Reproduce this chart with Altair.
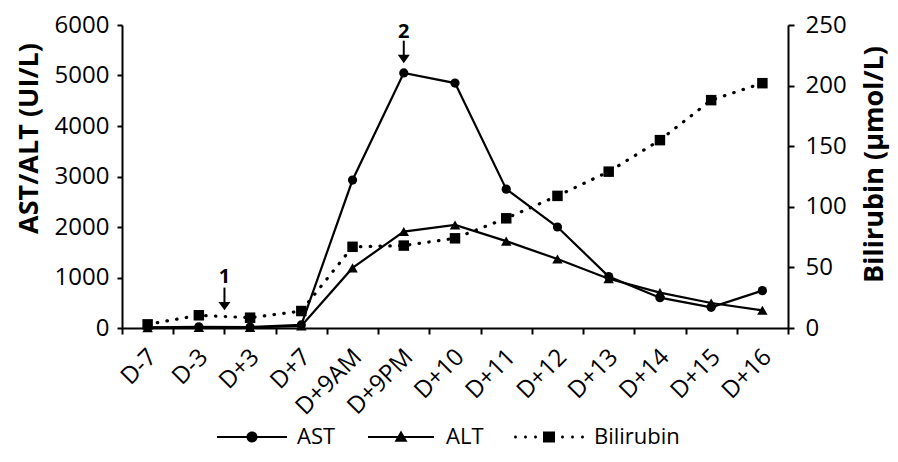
import altair as alt
import pandas as pd

# ---- data ----
days = ["D-7", "D-3", "D+3", "D+7", "D+9AM", "D+9PM", "D+10",
        "D+11", "D+12", "D+13", "D+14", "D+15", "D+16"]
ast = [15, 25, 20, 60, 2930, 5050, 4850, 2750, 2000, 1020, 600, 410, 740]
alt_vals = [5, 10, 10, 40, 1190, 1910, 2040, 1720, 1365, 975, 700, 495, 350]
bilirubin = [3, 10.5, 8.5, 14, 67, 68, 74, 90.5, 109, 129, 155, 188, 202]

series = ["AST", "ALT", "Bilirubin"]
left_ticks = [0, 1000, 2000, 3000, 4000, 5000, 6000]
right_ticks = [0, 50, 100, 150, 200, 250]

# annotations (arrow 1 sits on the D-3 / D+3 boundary, arrow 2 over D+9PM)
arrow_labels = ["1", "2"]
arrow_days = ["D+3", "D+9PM"]
arrow_band = [0, 0.5]
arrow_text_y = [890, 5750]
arrow_top = [800, 5690]
arrow_stem_end = [480, 5360]
arrow_tip = [350, 5243]

# legend symbols: line + marker drawn as one filled path each
legend_paths = [
    "M-7,-0.22H-1V0.22H-7Z M1,-0.22H7V0.22H1Z "
    "M-1.1,0A1.1,1.1 0 1,1 1.1,0A1.1,1.1 0 1,1 -1.1,0Z",
    "M-6.6,-0.22H6.6V0.22H-6.6Z M0,-1.3L1.3,0.95L-1.3,0.95Z",
    "M-1.2,-1.1H1.2V1.1H-1.2Z "
    "M-7,0A0.3,0.3 0 1,1 -6.4,0A0.3,0.3 0 1,1 -7,0Z "
    "M-5,0A0.3,0.3 0 1,1 -4.4,0A0.3,0.3 0 1,1 -5,0Z "
    "M-3,0A0.3,0.3 0 1,1 -2.4,0A0.3,0.3 0 1,1 -3,0Z "
    "M2.4,0A0.3,0.3 0 1,1 3,0A0.3,0.3 0 1,1 2.4,0Z "
    "M4.4,0A0.3,0.3 0 1,1 5,0A0.3,0.3 0 1,1 4.4,0Z "
    "M6.4,0A0.3,0.3 0 1,1 7,0A0.3,0.3 0 1,1 6.4,0Z",
]

df = pd.DataFrame({"day": days, "AST": ast, "ALT": alt_vals, "Bilirubin": bilirubin})

FONT = "Open Sans"

x_axis = alt.Axis(title=None, labelAngle=315, labelAlign="right", labelBaseline="middle",
                  tickBand="extent", tickSize=6, labelPadding=19, labelOffset=5)
x_scale = alt.Scale(type="band", domain=days, paddingInner=0, paddingOuter=0)


def xenc(band=0.5):
    return alt.X("day:N", sort=days, scale=x_scale, axis=x_axis, bandPosition=band)


y_left_scale = alt.Scale(domain=[0, 6000], nice=False, zero=True)
y_left_axis = alt.Axis(values=left_ticks, format="d", title="AST/ALT (UI/L)", titleAngle=270,
                       titleX=-79, titleY=113, titleBaseline="bottom", titleAlign="center",
                       tickSize=5, labelPadding=8)
y_right_scale = alt.Scale(domain=[0, 250], nice=False, zero=True)
y_right_axis = alt.Axis(values=right_ticks, format="d", title="Bilirubin (µmol/L)", orient="right",
                        titleAngle=270, titleX=100, titleY=139, titleBaseline="bottom",
                        titleAlign="center", tickSize=6, labelPadding=11)

base = alt.Chart(df)


def yl(field):
    return alt.Y(f"{field}:Q", scale=y_left_scale, axis=y_left_axis)


ast_line = base.mark_line(color="black", strokeWidth=2.2).encode(x=xenc(), y=yl("AST"))
alt_line = base.mark_line(color="black", strokeWidth=2.2).encode(x=xenc(), y=yl("ALT"))
ast_pts = base.mark_point(shape="circle", filled=True, size=85, color="black", opacity=1).encode(
    x=xenc(), y=yl("AST"))
alt_pts = base.mark_point(shape="triangle-up", filled=True, size=110, color="black", opacity=1).encode(
    x=xenc(), y=yl("ALT"))

arrow_layers = []
for i in range(len(arrow_labels)):
    adf = pd.DataFrame({"day": [arrow_days[i]], "label": [arrow_labels[i]],
                        "ty": [arrow_text_y[i]], "top": [arrow_top[i]],
                        "stem": [arrow_stem_end[i]], "tip": [arrow_tip[i]]})
    ab = alt.Chart(adf)
    b = arrow_band[i]
    arrow_layers.append(ab.mark_rule(color="black", strokeWidth=2).encode(
        x=xenc(b), y=alt.Y("top:Q", scale=y_left_scale, axis=y_left_axis), y2="stem:Q"))
    arrow_layers.append(ab.mark_point(shape="M0,0L-1,-1.4L1,-1.4Z", filled=True, size=144,
                                      color="black", opacity=1).encode(
        x=xenc(b), y=alt.Y("tip:Q", scale=y_left_scale, axis=y_left_axis)))
    arrow_layers.append(ab.mark_text(font=FONT, fontSize=20, fontWeight="bold", color="black",
                                     baseline="alphabetic", align="center").encode(
        x=xenc(b), y=alt.Y("ty:Q", scale=y_left_scale, axis=y_left_axis), text="label:N"))

legend_layer = alt.Chart(pd.DataFrame({"series": series})).mark_point(
    filled=True, color="black", opacity=1, size=100
).encode(
    shape=alt.Shape("series:N", scale=alt.Scale(domain=series, range=legend_paths),
                    legend=alt.Legend(title=None, orient="none", legendX=84, legendY=401,
                                      direction="horizontal", columns=3, symbolSize=100,
                                      symbolOffset=35, labelOffset=34, columnPadding=19,
                                      labelFont=FONT, labelFontSize=22, labelColor="black",
                                      symbolStrokeWidth=0, symbolFillColor="black",
                                      symbolOpacity=1, padding=0))
).transform_filter("false")

left = alt.layer(ast_line, alt_line, ast_pts, alt_pts, *arrow_layers, legend_layer)

yr = alt.Y("Bilirubin:Q", scale=y_right_scale, axis=y_right_axis)
bil_line = base.mark_line(color="black", strokeWidth=3.2, strokeDash=[0.5, 9.3],
                          strokeCap="round").encode(x=xenc(), y=yr)
bil_pts = base.mark_point(shape="square", filled=True, size=110, color="black", opacity=1).encode(
    x=xenc(), y=yr)
right = alt.layer(bil_line, bil_pts)

chart = alt.layer(left, right).resolve_scale(y="independent").properties(
    width=666, height=303,
    autosize=alt.AutoSizeParams(type="none"),
    padding={"left": 114, "top": 17, "right": 102, "bottom": 126},
).configure_view(stroke=None).configure_axis(
    labelFont=FONT, labelFontSize=24, labelColor="black",
    titleFont=FONT, titleFontSize=27, titleFontWeight="bold", titleColor="black",
    domainColor="black", tickColor="black", domainWidth=2, tickWidth=2, grid=False,
)

chart.save("out.html", embed_options={"renderer": "svg", "actions": False})
